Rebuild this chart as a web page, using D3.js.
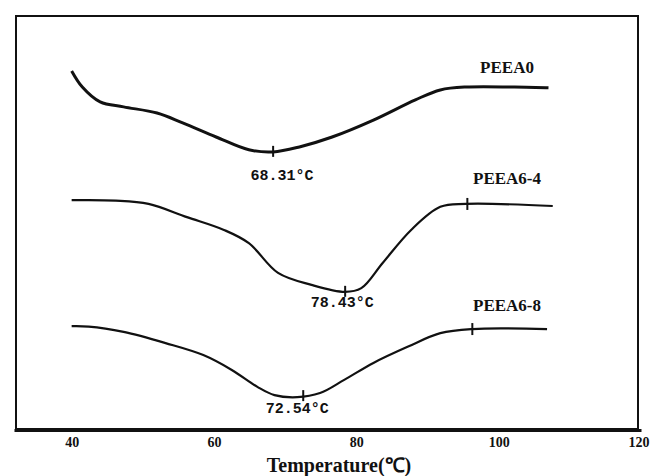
<!DOCTYPE html>
<html>
<head>
<meta charset="utf-8">
<script src="https://cdn.jsdelivr.net/npm/d3@7.9.0/dist/d3.min.js"></script>
<style>
  body { margin: 0; background: #fff; }
  svg { display: block; }
</style>
</head>
<body>
<svg width="650" height="476"></svg>
<script>
// DSC curves, temperature (°C) vs heat flow (arbitrary units, offset per curve)
const peea0Temp = [40, 41.5, 44, 47.3, 52, 55.6, 60.3, 64.9, 68.3, 72, 76.6, 82.4, 88.3, 91.8, 95.4, 107];
const peea0Flow = [86.7, 82.8, 79.2, 78, 76.5, 74.1, 70.7, 67.6, 67.1, 68.3, 70.7, 74.8, 79.7, 82.1, 82.8, 82.6];

const peea64Temp = [40, 46.2, 50.8, 56.2, 61.4, 64.9, 69, 73.7, 78.4, 80.7, 83.7, 87.7, 91.8, 95.4, 107.6];
const peea64Flow = [55.4, 55.3, 54.5, 51.3, 48.2, 45, 37.8, 34.9, 33.2, 34.1, 40.2, 48.2, 53.8, 54.5, 54];

const peea68Temp = [40, 42.4, 47.3, 53.2, 58.5, 62.5, 66.1, 68.5, 71.7, 74.9, 78.3, 82.4, 87.2, 91.8, 96.3, 106.8];
const peea68Flow = [24.9, 24.8, 23.5, 20.8, 17.9, 14.3, 10.2, 8.2, 7.7, 8.7, 11.9, 16, 19.9, 23.2, 24.2, 24.2];

const seriesNames = ['PEEA0', 'PEEA6-4', 'PEEA6-8'];
const peakTemps = [68.31, 78.43, 72.54];
const peakLabels = ['68.31°C', '78.43°C', '72.54°C'];
const endTemps = [null, 95.6, 96.3];
const xTicks = [40, 60, 80, 100, 120];

// label placement (pixels) relative to the marks they annotate
const nameDy = [-15, -22, -18];
const peakDx = [9, -3, -6];
const peakDy = [28, 15, 17];

const series = [
  { temp: peea0Temp, flow: peea0Flow, width: 3 },
  { temp: peea64Temp, flow: peea64Flow, width: 2.2 },
  { temp: peea68Temp, flow: peea68Flow, width: 2.2 }
];

const svg = d3.select('svg');
const x = d3.scaleLinear().domain([31.9, 120]).range([14, 641]);
const y = d3.scaleLinear().domain([0, 100]).range([429, 16]);

// frame
svg.append('rect')
  .attr('x', 16).attr('y', 16)
  .attr('width', 622).attr('height', 413)
  .attr('fill', 'none').attr('stroke', '#111').attr('stroke-width', 2);

// bottom axis
const axis = svg.append('g')
  .attr('transform', 'translate(0,430)')
  .call(d3.axisBottom(x).tickValues(xTicks).tickSize(0).tickPadding(7).tickFormat(d3.format('d')));
axis.select('.domain').attr('stroke', '#111').attr('stroke-width', 3);
axis.selectAll('text')
  .attr('font-family', 'Liberation Serif, serif')
  .attr('font-weight', 'bold')
  .attr('font-size', 14)
  .attr('fill', '#111');
// last label sits against the right edge
axis.selectAll('.tick').filter(d => d === 120).select('text')
  .attr('text-anchor', 'end').attr('x', 8);

svg.append('text')
  .attr('x', 339).attr('y', 472)
  .attr('text-anchor', 'middle')
  .attr('font-family', 'Liberation Serif, serif')
  .attr('font-weight', 'bold')
  .attr('font-size', 20)
  .attr('fill', '#111')
  .text('Temperature(℃)');

const line = d3.line().curve(d3.curveCatmullRom.alpha(0.5));

function flowAt(s, t) {
  const i = d3.bisectLeft(s.temp, t);
  if (i <= 0) return s.flow[0];
  const t0 = s.temp[i - 1], t1 = s.temp[i];
  const f = (t - t0) / (t1 - t0);
  return s.flow[i - 1] + f * (s.flow[i] - s.flow[i - 1]);
}

series.forEach((s, k) => {
  const pts = s.temp.map((t, i) => [x(t), y(s.flow[i])]);
  svg.append('path')
    .attr('d', line(pts))
    .attr('fill', 'none')
    .attr('stroke', '#111')
    .attr('stroke-width', s.width)
    .attr('stroke-linejoin', 'round');

  // peak marker and label
  const px = x(peakTemps[k]);
  const py = y(flowAt(s, peakTemps[k]));
  svg.append('line')
    .attr('x1', px).attr('x2', px)
    .attr('y1', py - 6).attr('y2', py + 5)
    .attr('stroke', '#111').attr('stroke-width', 2);
  svg.append('text')
    .attr('x', px + peakDx[k]).attr('y', py + peakDy[k])
    .attr('text-anchor', 'middle')
    .attr('font-family', 'Liberation Mono, monospace')
    .attr('font-weight', 'bold')
    .attr('font-size', 15)
    .attr('fill', '#111')
    .text(peakLabels[k]);

  if (endTemps[k] != null) {
    const ex = x(endTemps[k]);
    const ey = y(flowAt(s, endTemps[k]));
    svg.append('line')
      .attr('x1', ex).attr('x2', ex)
      .attr('y1', ey - 6).attr('y2', ey + 6)
      .attr('stroke', '#111').attr('stroke-width', 2);
  }

  // series name
  const lastFlow = s.flow[s.flow.length - 1];
  svg.append('text')
    .attr('x', 507).attr('y', y(lastFlow) + nameDy[k])
    .attr('text-anchor', 'middle')
    .attr('font-family', 'Liberation Serif, serif')
    .attr('font-weight', 'bold')
    .attr('font-size', 17)
    .attr('fill', '#111')
    .text(seriesNames[k]);
});
</script>
</body>
</html>
